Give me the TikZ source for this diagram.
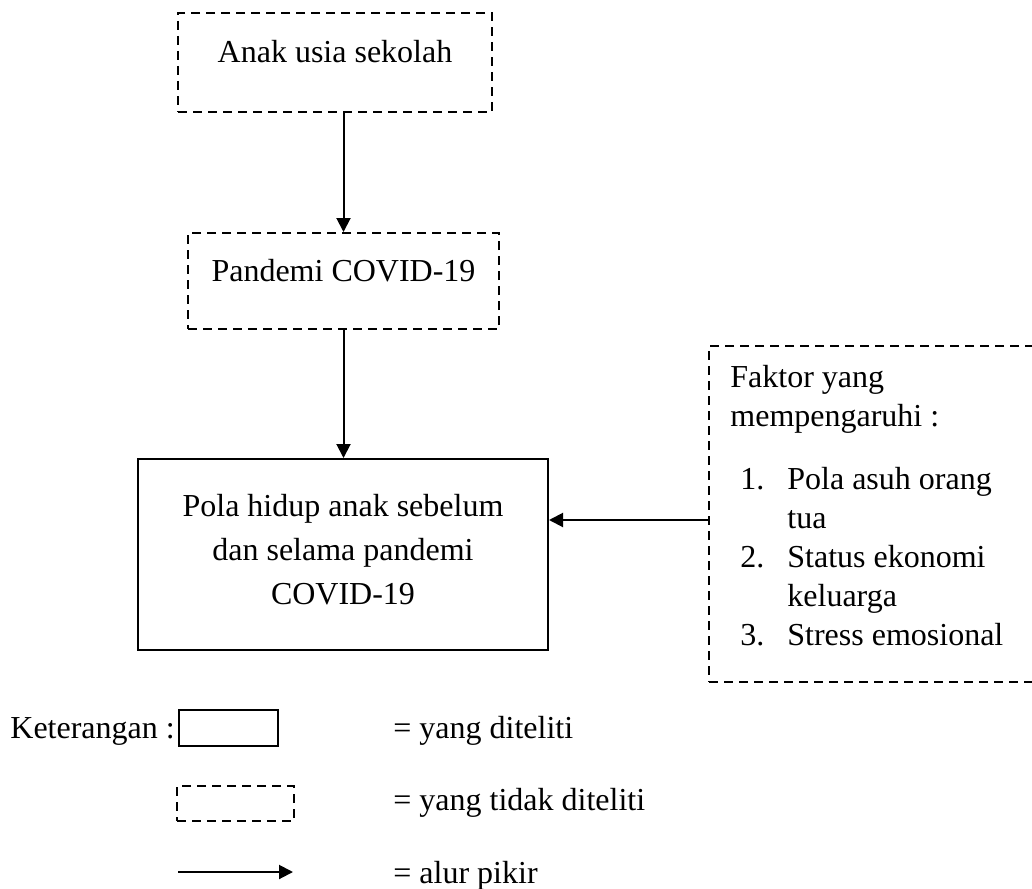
\documentclass[tikz,border=0pt]{standalone}
\usepackage{fontspec}
\setmainfont{Liberation Serif}
\usetikzlibrary{arrows.meta, positioning, calc}
\tikzset{
	solidbox/.style={draw, line width=1pt, inner sep=0pt, align=center, font=\fontsize{16pt}{22pt}\selectfont},
	dashbox/.style={draw, line width=1pt, dash pattern=on 4.5pt off 3pt, inner sep=0pt, align=center, font=\fontsize{16pt}{19.5pt}\selectfont},
	flowarr/.style={-{Triangle[length=7pt, width=7pt]}, line width=1pt},
	plaintxt/.style={inner sep=0pt, font=\fontsize{16pt}{19.5pt}\selectfont},
}
\begin{document}
\begin{tikzpicture}[x=0.5pt, y=-0.5pt]
	\useasboundingbox (0,0) rectangle (1032,888);
	% alur utama
	\node[dashbox, minimum width=157pt, minimum height=49.5pt, text depth=11pt] (anak) at (335,62.5) {Anak usia sekolah};
	\node[dashbox, minimum width=155.5pt, minimum height=48pt, text depth=11pt] (pandemi) at (343.5,281) {Pandemi COVID-19};
	\node[solidbox, minimum width=205pt, minimum height=95.5pt, text depth=5pt] (pola) at (343,554.5) {Pola hidup anak sebelum\\ dan selama pandemi\\ COVID-19};
	\draw[flowarr] (pandemi.north |- anak.south) -- (pandemi.north);
	\draw[flowarr] (pandemi.south) -- (pandemi.south |- pola.north);
	% faktor
	\node[dashbox, minimum width=166pt, minimum height=168pt, anchor=north west] (faktor) at (708,345) {};
	\node[plaintxt, align=left, anchor=north west] (faktortxt) at (730,365) {Faktor yang\\
		mempengaruhi :\\[12pt]
		\hspace*{5pt}\makebox[23.5pt][l]{1.}Pola asuh orang\\
		\hspace*{28.5pt}tua\\
		\hspace*{5pt}\makebox[23.5pt][l]{2.}Status ekonomi\\
		\hspace*{28.5pt}keluarga\\
		\hspace*{5pt}\makebox[23.5pt][l]{3.}Stress emosional};
	\coordinate (fk) at (708,520);
	\draw[flowarr] (fk) -- (fk -| pola.east);
	% keterangan
	\node[plaintxt, anchor=base west] (ket) at (10,738) {Keterangan :};
	\node[solidbox, minimum width=49.5pt, minimum height=18pt] (lsolid) at (228.5,728) {};
	\node[dashbox, minimum width=58.5pt, minimum height=17.5pt] (ldash) at (235.5,803.5) {};
	\coordinate (la) at (178,872);
	\coordinate (lb) at (293,872);
	\draw[flowarr] (la) -- (lb);
	\node[plaintxt, anchor=base west] (lt1) at (393,738) {= yang diteliti};
	\node[plaintxt, anchor=base west] (lt2) at (393,810) {= yang tidak diteliti};
	\node[plaintxt, anchor=base west] (lt3) at (393,883) {= alur pikir};
\end{tikzpicture}
\end{document}
